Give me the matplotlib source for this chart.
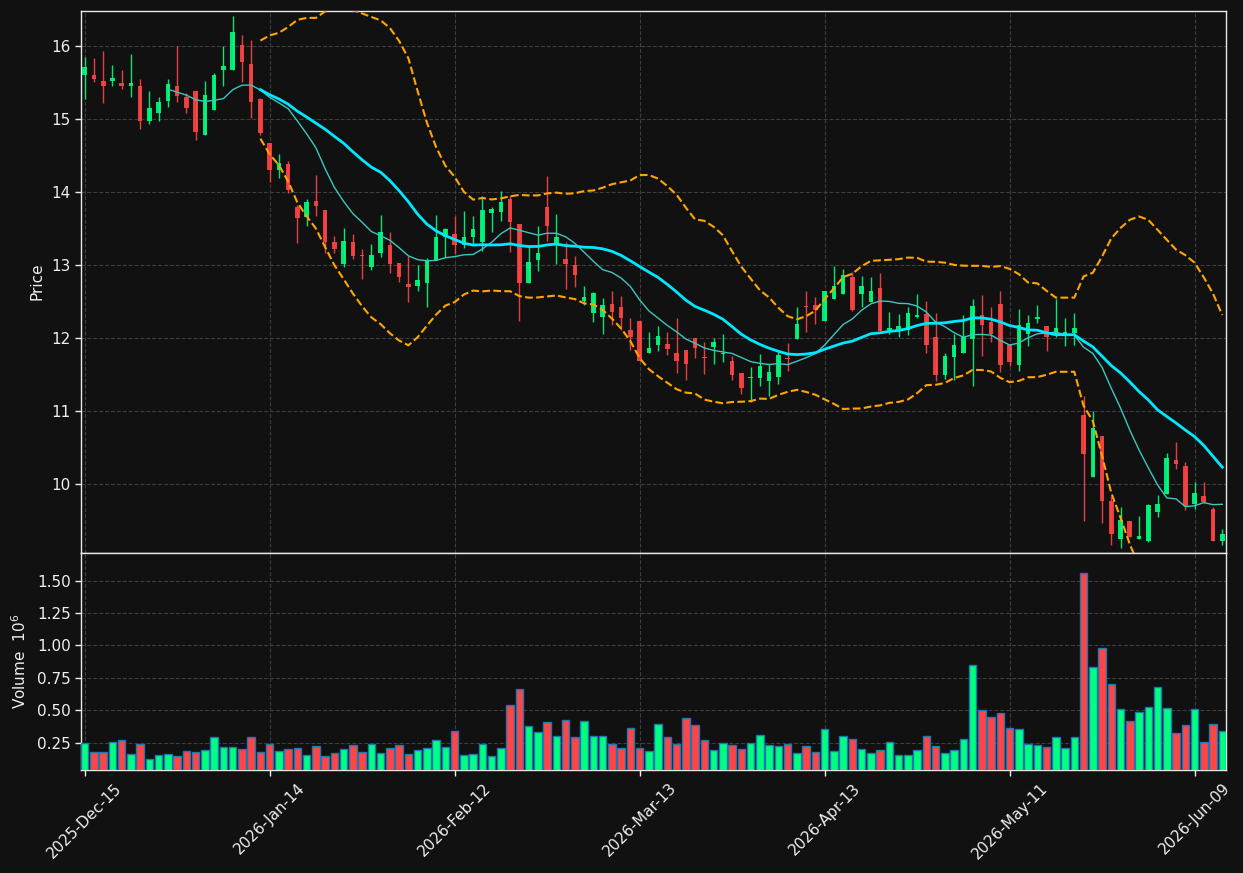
import matplotlib
matplotlib.use("Agg")
import matplotlib.pyplot as plt
import numpy as np
import pandas as pd

# ---------------- data ----------------
tick_labels = ["2025-Dec-15", "2026-Jan-14", "2026-Feb-12", "2026-Mar-13",
               "2026-Apr-13", "2026-May-11", "2026-Jun-09"]
tick_step = 20

opens = [15.60, 15.61, 15.52, 15.53, 15.50, 15.46, 15.46, 14.98, 15.08, 15.25,
         15.46, 15.30, 15.38, 14.78, 15.12, 15.67, 15.68, 16.02, 15.76, 15.27,
         14.68, 14.30, 14.38, 13.79, 13.66, 13.88, 13.76, 13.31, 13.02, 13.32,
         13.13, 12.98, 13.16, 13.27, 13.03, 12.74, 12.71, 12.76, 13.07, 13.38,
         13.42, 13.27, 13.38, 13.32, 13.71, 13.73, 13.91, 13.57, 12.76, 13.07,
         13.79, 13.29, 13.09, 13.00, 12.51, 12.35, 12.29, 12.46, 12.43, 12.11,
         12.24, 11.79, 11.91, 11.92, 11.80, 11.84, 12.00, 11.73, 11.88, 11.78,
         11.68, 11.52, 11.45, 11.45, 11.41, 11.46, 11.73, 11.99, 12.43, 12.45,
         12.24, 12.53, 12.60, 12.83, 12.60, 12.49, 12.68, 12.11, 12.11, 12.11,
         12.29, 12.33, 12.02, 11.49, 11.74, 11.80, 11.99, 12.32, 12.22, 12.46,
         11.90, 11.63, 12.05, 12.26, 12.17, 12.06, 12.06, 12.07, 10.95, 10.10,
         10.66, 9.76, 9.25, 9.49, 9.25, 9.22, 9.62, 9.86, 10.33, 10.25,
         9.72, 9.84, 9.65, 9.22]
highs = [15.85, 15.84, 15.93, 15.74, 15.67, 15.89, 15.55, 15.38, 15.30, 15.55,
         16.00, 15.36, 15.38, 15.52, 15.63, 16.00, 16.42, 16.16, 16.09, 15.29,
         14.68, 14.52, 14.43, 13.82, 13.91, 14.24, 13.76, 13.40, 13.51, 13.42,
         13.22, 13.29, 13.68, 13.45, 13.03, 13.12, 13.00, 13.10, 13.68, 13.51,
         13.67, 13.74, 13.67, 13.95, 13.80, 14.01, 13.96, 13.57, 13.27, 13.54,
         14.22, 13.70, 13.31, 13.12, 12.72, 12.63, 12.55, 12.65, 12.58, 12.28,
         12.24, 12.08, 12.17, 12.08, 12.28, 11.84, 12.00, 11.94, 12.00, 12.06,
         11.75, 11.52, 11.60, 11.78, 11.64, 11.82, 11.93, 12.42, 12.65, 12.56,
         12.65, 12.99, 12.94, 12.91, 12.85, 12.83, 12.89, 12.36, 12.33, 12.43,
         12.61, 12.51, 12.34, 11.79, 12.06, 12.31, 12.53, 12.59, 12.43, 12.65,
         11.90, 12.40, 12.32, 12.45, 12.17, 12.53, 12.28, 12.34, 11.20, 11.00,
         10.66, 9.83, 9.69, 9.49, 9.56, 9.73, 9.85, 10.43, 10.57, 10.30,
         10.02, 10.03, 9.69, 9.38]
lows = [15.27, 15.51, 15.22, 15.46, 15.42, 15.30, 14.87, 14.93, 14.97, 15.17,
        15.23, 15.09, 14.71, 14.78, 15.12, 15.45, 15.68, 15.51, 15.02, 14.78,
        14.14, 14.20, 13.99, 13.30, 13.53, 13.67, 13.16, 13.17, 12.97, 13.08,
        12.81, 12.93, 13.11, 12.89, 12.77, 12.49, 12.64, 12.42, 13.07, 13.11,
        13.15, 13.23, 13.28, 13.19, 13.45, 13.60, 13.18, 12.24, 12.76, 12.92,
        13.33, 13.02, 12.67, 12.70, 12.45, 12.22, 12.06, 12.18, 12.11, 11.83,
        11.69, 11.79, 11.82, 11.77, 11.52, 11.42, 11.73, 11.51, 11.65, 11.67,
        11.43, 11.23, 11.13, 11.34, 11.20, 11.37, 11.55, 11.99, 12.08, 12.19,
        12.24, 12.53, 12.60, 12.37, 12.42, 12.49, 12.09, 12.06, 12.01, 12.04,
        12.27, 11.80, 11.41, 11.44, 11.42, 11.80, 11.34, 11.75, 11.94, 11.54,
        11.61, 11.55, 11.89, 12.21, 11.82, 12.01, 11.89, 11.90, 9.49, 10.10,
        9.47, 9.16, 9.12, 9.27, 9.25, 9.20, 9.54, 9.86, 10.20, 9.64,
        9.65, 9.74, 9.22, 9.16]
closes = [15.72, 15.55, 15.46, 15.57, 15.45, 15.50, 14.98, 15.16, 15.23, 15.48,
          15.32, 15.15, 14.83, 15.33, 15.61, 15.73, 16.20, 15.78, 15.24, 14.81,
          14.31, 14.40, 14.03, 13.64, 13.86, 13.81, 13.32, 13.22, 13.33, 13.13,
          13.12, 13.14, 13.45, 13.02, 12.84, 12.70, 12.80, 13.06, 13.38, 13.50,
          13.27, 13.39, 13.50, 13.76, 13.77, 13.87, 13.59, 12.75, 13.04, 13.17,
          13.53, 13.38, 13.02, 12.86, 12.56, 12.62, 12.45, 12.36, 12.27, 12.02,
          11.69, 11.87, 12.03, 11.85, 11.69, 11.64, 11.86, 11.72, 11.94, 11.80,
          11.49, 11.31, 11.47, 11.61, 11.53, 11.77, 11.71, 12.19, 12.42, 12.38,
          12.65, 12.72, 12.87, 12.38, 12.72, 12.65, 12.09, 12.14, 12.16, 12.34,
          12.32, 11.90, 11.49, 11.75, 11.90, 12.02, 12.44, 12.18, 12.06, 11.63,
          11.67, 12.18, 12.21, 12.29, 12.01, 12.14, 12.08, 12.14, 10.41, 10.76,
          9.76, 9.31, 9.50, 9.27, 9.28, 9.71, 9.73, 10.35, 10.28, 9.70,
          9.87, 9.75, 9.22, 9.32]
volumes = [0.245, 0.180, 0.180, 0.258, 0.273, 0.165, 0.237, 0.126, 0.157, 0.165,
           0.144, 0.188, 0.180, 0.196, 0.289, 0.219, 0.219, 0.203, 0.289, 0.180,
           0.242, 0.188, 0.203, 0.211, 0.157, 0.227, 0.144, 0.172, 0.203, 0.234,
           0.180, 0.242, 0.172, 0.211, 0.234, 0.165, 0.196, 0.211, 0.273, 0.219,
           0.343, 0.150, 0.165, 0.242, 0.144, 0.211, 0.537, 0.661, 0.374, 0.335,
           0.405, 0.304, 0.421, 0.289, 0.413, 0.297, 0.297, 0.242, 0.211, 0.366,
           0.211, 0.188, 0.390, 0.289, 0.237, 0.436, 0.382, 0.273, 0.196, 0.250,
           0.234, 0.203, 0.250, 0.312, 0.234, 0.227, 0.242, 0.172, 0.227, 0.180,
           0.351, 0.188, 0.304, 0.281, 0.203, 0.172, 0.196, 0.258, 0.150, 0.150,
           0.196, 0.297, 0.227, 0.172, 0.196, 0.281, 0.848, 0.498, 0.444, 0.475,
           0.366, 0.351, 0.242, 0.234, 0.219, 0.289, 0.211, 0.289, 1.562, 0.832,
           0.980, 0.700, 0.506, 0.413, 0.483, 0.522, 0.677, 0.514, 0.320, 0.382,
           0.506, 0.258, 0.397, 0.343]

# ---------------- style ----------------
BG = "#111111"
UP = "#00ff80"
DOWN = "#ff4545"
TXT = "#eeeeee"
GRID = "#3d3d3d"
FS = 11

o = np.array(opens)
h = np.array(highs)
l = np.array(lows)
c = np.array(closes)
v = np.array(volumes)
x = np.arange(len(c))
up = c >= o
cols = np.where(up, UP, DOWN)

s = pd.Series(c)
ma10 = s.rolling(10).mean()
ma20 = s.rolling(20).mean()
sd20 = s.rolling(20).std()
upper = ma20 + 2 * sd20
lower = ma20 - 2 * sd20

fig = plt.figure(figsize=(12.43, 8.73), dpi=100, facecolor=BG)
ax = fig.add_axes([0.06516, 0.36712, 0.92116, 0.62085], facecolor=BG)
axv = fig.add_axes([0.06516, 0.11798, 0.92116, 0.24914], facecolor=BG, sharex=ax)

# candles
ax.vlines(x, l, h, colors=cols, linewidth=1.0, alpha=0.9, zorder=2)
body = np.maximum(np.abs(c - o), 0.02)
ax.bar(x, body, bottom=np.minimum(o, c), width=0.5, color=cols, alpha=0.9,
       linewidth=0, zorder=3)

# moving averages & bands
ax.plot(x, ma10, color="#3cc6c0", linewidth=1.0, zorder=4)
ax.plot(x, ma20, color="#00e8ff", linewidth=2.0, zorder=5)
ax.plot(x, upper, color="#ffa500", linewidth=1.5, linestyle="--", zorder=6)
ax.plot(x, lower, color="#ffa500", linewidth=1.5, linestyle="--", zorder=6)

# volume
axv.bar(x, v, width=0.82, color=cols, edgecolor="#1f77b4", linewidth=1.0, zorder=3)

# axes cosmetics
ax.set_xlim(-0.4, len(c) - 0.6)
ax.set_ylim(9.06, 16.49)
axv.set_ylim(0.3 * v.min(), 1.1 * v.max())

ax.set_yticks([10, 11, 12, 13, 14, 15, 16])
axv.set_yticks([0.25, 0.50, 0.75, 1.00, 1.25, 1.50])
axv.set_yticklabels([f"{t:.2f}" for t in [0.25, 0.50, 0.75, 1.00, 1.25, 1.50]])

tpos = [i * tick_step for i in range(len(tick_labels))]
axv.set_xticks(tpos)
axv.set_xticklabels(tick_labels, rotation=45, fontsize=FS, color=TXT)
ax.tick_params(axis="x", bottom=False, labelbottom=False)

for a in (ax, axv):
    a.grid(True, linestyle="--", color=GRID, linewidth=0.8, zorder=0)
    a.set_axisbelow(True)
    a.tick_params(colors=TXT, labelsize=FS, length=4, width=1)
    for sp in a.spines.values():
        sp.set_color("#e8e8e8")
        sp.set_linewidth(1.0)

ax.set_ylabel("Price", color=TXT, fontsize=FS)
axv.set_ylabel("Volume  $10^{6}$", color=TXT, fontsize=FS)
ax.yaxis.set_label_coords(-0.032, 0.5)
axv.yaxis.set_label_coords(-0.045, 0.5)

fig.savefig("out.png", dpi=100, facecolor=BG)
